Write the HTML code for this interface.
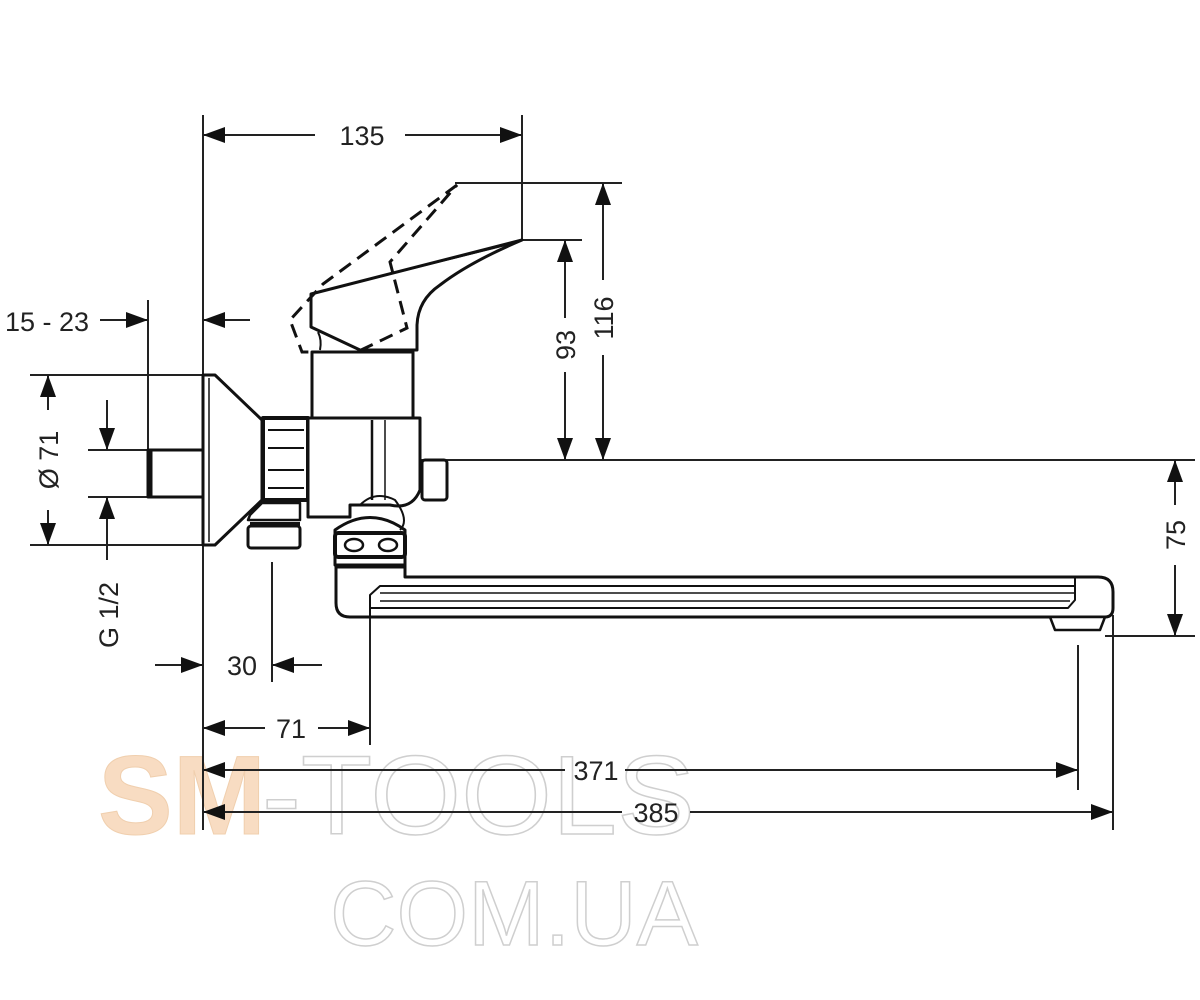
<!DOCTYPE html>
<html><head><meta charset="utf-8"><style>
html,body{margin:0;padding:0;background:#fff;width:1200px;height:1000px;overflow:hidden}
svg{display:block}
text{font-family:"Liberation Sans",sans-serif;fill:#222}
</style></head><body>
<svg width="1200" height="1000" viewBox="0 0 1200 1000" xmlns="http://www.w3.org/2000/svg">
<!-- watermark -->
<g font-family="Liberation Sans,sans-serif" font-weight="bold" font-size="112">
<text x="98" y="834" stroke="#f0cfae" stroke-width="1" style="fill:#f8dcc2">SM</text>
<text x="262" y="834" stroke="#cfcfcf" stroke-width="1.5" font-weight="normal" textLength="433" lengthAdjust="spacingAndGlyphs" style="fill:none">-TOOLS</text>
<text x="330" y="945" stroke="#cfcfcf" stroke-width="1.5" font-weight="normal" font-size="92" style="fill:none">COM.UA</text>
</g>

<g stroke="#222" stroke-width="2" fill="none">
<line x1="203" y1="115" x2="203" y2="830"/>
<line x1="203" y1="135" x2="315" y2="135"/><line x1="405" y1="135" x2="522" y2="135"/>
<line x1="522" y1="115" x2="522" y2="240"/>
<line x1="455" y1="183" x2="622" y2="183"/>
<line x1="522" y1="240" x2="582" y2="240"/>
<line x1="603" y1="183" x2="603" y2="280"/><line x1="603" y1="355" x2="603" y2="460"/>
<line x1="565" y1="240" x2="565" y2="318"/><line x1="565" y1="372" x2="565" y2="460"/>
<line x1="312" y1="460" x2="1195" y2="460"/>
<line x1="1175" y1="460" x2="1175" y2="505"/><line x1="1175" y1="565" x2="1175" y2="636"/>
<line x1="1105" y1="636" x2="1195" y2="636"/>
<line x1="100" y1="320" x2="148" y2="320"/><line x1="148" y1="300" x2="148" y2="450"/>
<line x1="203" y1="320" x2="250" y2="320"/>
<line x1="30" y1="375" x2="203" y2="375"/><line x1="30" y1="545" x2="203" y2="545"/>
<line x1="48" y1="375" x2="48" y2="410"/><line x1="48" y1="510" x2="48" y2="545"/>
<line x1="88" y1="450" x2="148" y2="450"/><line x1="88" y1="497" x2="148" y2="497"/>
<line x1="107" y1="400" x2="107" y2="450"/><line x1="107" y1="497" x2="107" y2="560"/>
<line x1="155" y1="665" x2="203" y2="665"/><line x1="272" y1="665" x2="322" y2="665"/>
<line x1="272" y1="562" x2="272" y2="682"/>
<line x1="203" y1="728" x2="265" y2="728"/><line x1="318" y1="728" x2="370" y2="728"/>
<line x1="370" y1="590" x2="370" y2="745"/>
<line x1="203" y1="770" x2="565" y2="770"/><line x1="625" y1="770" x2="1078" y2="770"/>
<line x1="1078" y1="645" x2="1078" y2="790"/>
<line x1="203" y1="812" x2="622" y2="812"/><line x1="690" y1="812" x2="1113" y2="812"/>
<line x1="1113" y1="615" x2="1113" y2="830"/>
</g>

<g fill="#111">
<polygon points="203,135 225,127 225,143"/><polygon points="522,135 500,127 500,143"/>
<polygon points="603,183 595,205 611,205"/><polygon points="603,460 595,438 611,438"/>
<polygon points="565,240 557,262 573,262"/><polygon points="565,460 557,438 573,438"/>
<polygon points="1175,460 1167,482 1183,482"/><polygon points="1175,636 1167,614 1183,614"/>
<polygon points="148,320 126,312 126,328"/><polygon points="203,320 225,312 225,328"/>
<polygon points="48,375 40,397 56,397"/><polygon points="48,545 40,523 56,523"/>
<polygon points="107,450 99,428 115,428"/><polygon points="107,497 99,519 115,519"/>
<polygon points="203,665 181,657 181,673"/><polygon points="272,665 294,657 294,673"/>
<polygon points="203,728 225,720 225,736"/><polygon points="370,728 348,720 348,736"/>
<polygon points="203,770 225,762 225,778"/><polygon points="1078,770 1056,762 1056,778"/>
<polygon points="203,812 225,804 225,820"/><polygon points="1113,812 1091,804 1091,820"/>
</g>

<g font-size="27">
<text x="362" y="145" text-anchor="middle">135</text>
<text x="5" y="331">15 - 23</text>
<text x="242" y="675" text-anchor="middle">30</text>
<text x="291" y="738" text-anchor="middle">71</text>
<text x="596" y="780" text-anchor="middle">371</text>
<text x="656" y="822" text-anchor="middle">385</text>
<text transform="translate(613,318) rotate(-90)" text-anchor="middle">116</text>
<text transform="translate(575,345) rotate(-90)" text-anchor="middle">93</text>
<text transform="translate(1185,535) rotate(-90)" text-anchor="middle">75</text>
<text transform="translate(58,460) rotate(-90)" text-anchor="middle">Ø 71</text>
<text transform="translate(118,615) rotate(-90)" text-anchor="middle">G 1/2</text>
</g>

<g stroke="#111" stroke-width="3" fill="#fff" stroke-linejoin="round">
<rect x="148" y="450" width="55" height="47" fill="#fff"/>
<line x1="150" y1="450" x2="150" y2="497" stroke-width="5"/>
<path d="M203,375 L215,375 L262,420 L262,500 L215,545 L203,545 Z"/>
<line x1="209" y1="378" x2="209" y2="542" stroke-width="1.5"/>
<path d="M336,565 L336,603 Q336,617 350,617 L1105,617 Q1113,617 1113,608 L1113,592 Q1113,577 1098,577 L405,577 L405,565 Z"/>
<path d="M370,617 L370,595 L380,586 L1075,586 L1075,600 L1068,608 L370,608" fill="none" stroke-width="2"/>
<line x1="1075" y1="577" x2="1075" y2="600" stroke-width="2"/>
<line x1="380" y1="593" x2="1075" y2="593" stroke-width="1.5"/>
<line x1="380" y1="601" x2="1070" y2="601" stroke-width="1.5"/>
<path d="M1050,617 L1055,630 L1100,630 L1105,617 Z" stroke-width="2.5"/>
<path d="M335,530 Q370,505 405,530 L405,565 L335,565 Z"/>
<rect x="335" y="533" width="70" height="24" rx="3" stroke-width="4"/>
<ellipse cx="354" cy="545" rx="9" ry="6" stroke-width="2.5"/>
<ellipse cx="388" cy="545" rx="9" ry="6" stroke-width="2.5"/>
<line x1="335" y1="567" x2="405" y2="567" stroke-width="3"/>
<path d="M250,515 L262,503 L300,503 L300,520 L248,520 Z" stroke-width="2.5"/>
<rect x="248" y="526" width="52" height="22" rx="3" stroke-width="3"/>
<line x1="250" y1="524" x2="300" y2="524" stroke-width="4"/>
<rect x="263" y="418" width="45" height="82" stroke-width="4"/>
<line x1="268" y1="430" x2="304" y2="430" stroke-width="2"/>
<line x1="268" y1="448" x2="304" y2="448" stroke-width="2"/>
<line x1="268" y1="470" x2="304" y2="470" stroke-width="2"/>
<line x1="268" y1="488" x2="304" y2="488" stroke-width="2"/>
<path d="M308,418 L420,418 L420,490 Q412,510 390,505 L350,505 L350,517 L308,517 Z"/>
<line x1="372" y1="420" x2="372" y2="500" stroke-width="2.5"/>
<line x1="385" y1="420" x2="385" y2="500" stroke-width="1.5"/>
<path d="M360,505 Q375,490 395,500 Q410,520 400,530" fill="none" stroke-width="2"/>
<rect x="422" y="460" width="25" height="40" rx="3" stroke-width="3"/>
<rect x="312" y="352" width="101" height="66"/>
<path d="M311,294 L522,240 Q470,262 440,285 Q418,300 417,325 L417,350 L360,350 L311,327 Z"/>
<path d="M318,292 L515,243" fill="none" stroke-width="1.5"/>
<path d="M318,332 Q322,340 320,350" fill="none" stroke-width="2"/>
</g>
<path d="M457,185 L323,284 L290,320 L302,352 L357,352 L407,328 L390,262 Z" fill="none" stroke="#111" stroke-width="3" stroke-dasharray="14,8"/>
</svg>
</body></html>
